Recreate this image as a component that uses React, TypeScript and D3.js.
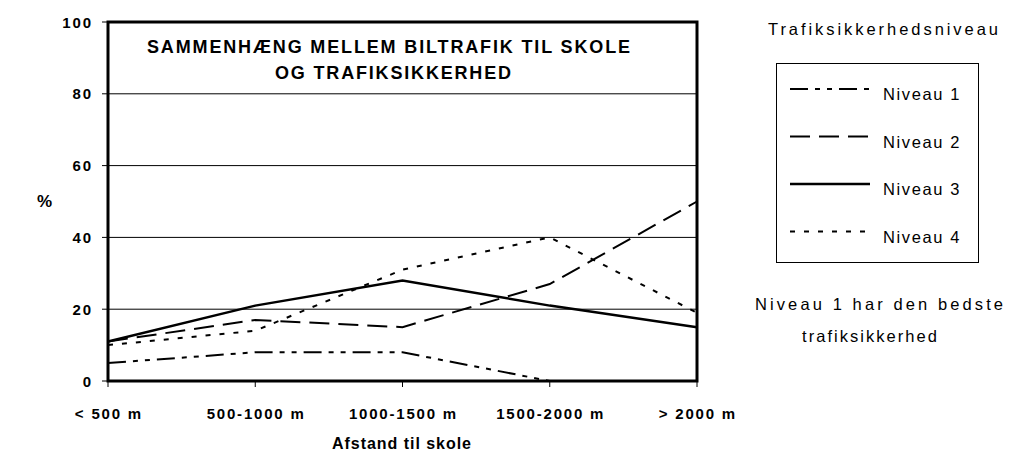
import React from "react";
import * as d3 from "d3";

const categories = ["< 500 m", "500-1000 m", "1000-1500 m", "1500-2000 m", "> 2000 m"];
const niveau1: (number | null)[] = [5, 8, 8, 0, null];
const niveau2: (number | null)[] = [11, 17, 15, 27, 50];
const niveau3: (number | null)[] = [11, 21, 28, 21, 15];
const niveau4: (number | null)[] = [10, 14, 31, 40, 19];
const yTicks = [0, 20, 40, 60, 80, 100];
const seriesNames = ["Niveau 1", "Niveau 2", "Niveau 3", "Niveau 4"];

const dashes = ["18,7,5,7,5,7", "20,9", "", "5,9"];
const series = [niveau1, niveau2, niveau3, niveau4];

export default function App() {
  const W = 1009, H = 455;
  const left = 108, right = 697, top = 22, bottom = 381;
  const x = d3.scalePoint<string>().domain(categories).range([left, right]);
  const y = d3.scaleLinear().domain([0, 100]).range([bottom, top]);
  const line = d3
    .line<number | null>()
    .defined((d) => d !== null)
    .x((_, i) => x(categories[i]) as number)
    .y((d) => y(d as number));
  const font = "Liberation Sans, Arial, sans-serif";
  const tickLS = 1.8;
  return (
    <svg width={W} height={H} style={{ position: "absolute", left: 0, top: 0, fontFamily: font }}>
      <rect x={0} y={0} width={W} height={H} fill="#fff" />
      {yTicks.filter((t) => t > 0 && t < 100).map((t) => (
        <line key={t} x1={left} x2={right} y1={y(t)} y2={y(t)} stroke="#000" strokeWidth={1} />
      ))}
      {yTicks.map((t) => (
        <g key={"yt" + t}>
          <line x1={left - 6} x2={left} y1={y(t)} y2={y(t)} stroke="#000" strokeWidth={1} />
          <text x={91 + tickLS} y={y(t) + 5.5} textAnchor="end" fontSize={15} fontWeight="bold" letterSpacing={tickLS}>{t}</text>
        </g>
      ))}
      {categories.map((c) => (
        <g key={c}>
          <line x1={x(c)} x2={x(c)} y1={bottom} y2={bottom + 6} stroke="#000" strokeWidth={1} />
          <text x={(x(c) as number) + tickLS / 2} y={419} textAnchor="middle" fontSize={15} fontWeight="bold" letterSpacing={tickLS}>{c}</text>
        </g>
      ))}
      {series.map((s, i) => (
        <path key={i} d={line(s) || ""} fill="none" stroke="#000" strokeWidth={i === 2 ? 2.5 : 2} strokeDasharray={dashes[i] || undefined} />
      ))}
      <rect x={left} y={top} width={right - left} height={bottom - top} fill="none" stroke="#000" strokeWidth={3} />
      <text x={147} y={53.3} fontSize={18} fontWeight="bold" textLength={483} lengthAdjust="spacing">SAMMENHÆNG MELLEM BILTRAFIK TIL SKOLE</text>
      <text x={275} y={79.3} fontSize={18} fontWeight="bold" textLength={236} lengthAdjust="spacing">OG TRAFIKSIKKERHED</text>
      <text x={37} y={207} fontSize={17} fontWeight="bold">%</text>
      <text x={332} y={449} fontSize={16} fontWeight="bold" textLength={139} lengthAdjust="spacing">Afstand til skole</text>
      <text x={768} y={35} fontSize={16.5} textLength={230} lengthAdjust="spacing">Trafiksikkerhedsniveau</text>
      <rect x={776.5} y={63.5} width={202} height={199} fill="none" stroke="#000" strokeWidth={1} />
      {seriesNames.map((n, i) => (
        <g key={n}>
          <line x1={790} x2={870} y1={89 + i * 47.5} y2={89 + i * 47.5} stroke="#000" strokeWidth={i === 2 ? 2.5 : 2} strokeDasharray={dashes[i] || undefined} />
          <text x={883} y={100 + i * 47.7} fontSize={16.5} textLength={76.5} lengthAdjust="spacing">{n}</text>
        </g>
      ))}
      <text x={755} y={310} fontSize={16.5} textLength={248} lengthAdjust="spacing">Niveau 1 har den bedste</text>
      <text x={802} y={342} fontSize={16.5} textLength={135} lengthAdjust="spacing">trafiksikkerhed</text>
    </svg>
  );
}
